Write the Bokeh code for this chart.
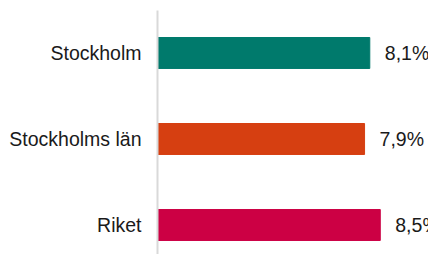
from bokeh.plotting import figure
from bokeh.models import Range1d, FixedTicker, ColumnDataSource
from bokeh.core.properties import value
from bokeh.embed import file_html
from bokeh.resources import INLINE

categories = ["Stockholm", "Stockholms län", "Riket"]
values = [8.1, 7.9, 8.5]
colors = ["#007A6C", "#D63F11", "#CC0044"]
value_labels = [f"{v:.1f}".replace(".", ",") + "%" for v in values]

ys = list(range(len(categories)))
src = ColumnDataSource(dict(y=ys, v=values, c=colors, lab=value_labels))

FONT = "Liberation Sans"
FS = "19.5px"

p = figure(width=428, height=254, output_backend="svg", toolbar_location=None,
           x_range=Range1d(0, 10.34), y_range=Range1d(2.343, -0.494),
           min_border_left=157, min_border_right=0, min_border_top=10, min_border_bottom=0)
p.hbar(y="y", left=0, right="v", height=0.36, color="c", source=src)
p.text(x="v", y="y", text="lab", source=src, x_offset=15, text_baseline="middle",
       text_align="left", text_font=value(FONT), text_font_size=FS, text_color="#1a1a1a")

p.xaxis.visible = False
p.grid.visible = False
p.outline_line_color = None
ax = p.yaxis[0]
ax.ticker = FixedTicker(ticks=ys)
ax.major_label_overrides = {i: c for i, c in zip(ys, categories)}
ax.major_tick_line_color = None
ax.major_tick_out = 0
ax.major_tick_in = 0
ax.minor_tick_line_color = None
ax.major_label_standoff = 16
ax.axis_line_color = "#d9d9d9"
ax.axis_line_width = 2
ax.major_label_text_font = FONT
ax.major_label_text_font_size = FS
ax.major_label_text_color = "#1a1a1a"

open("out.html", "w").write(file_html(p, INLINE))
